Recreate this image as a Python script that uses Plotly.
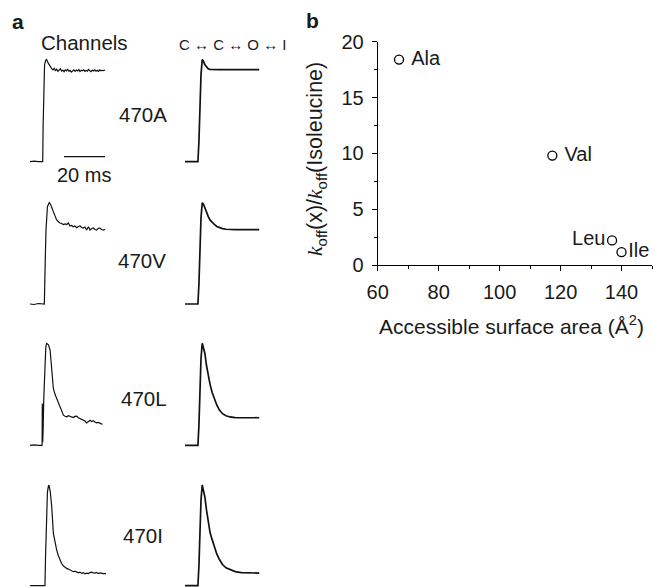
import plotly.graph_objects as go

# ---------------- data ----------------
# Panel b
residues = ["Ala", "Val", "Leu", "Ile"]
asa = [67, 117.3, 136.9, 140]
koff_ratio = [18.4, 9.8, 2.2, 1.15]

# Panel a: recorded channel currents (time in ms, normalized current)
chan_A_t = [0.0, 2.0, 4.0, 6.2, 6.4, 6.7, 7.1, 7.6, 8.1, 8.9, 9.8, 10.6,
            11.2, 11.8, 12.4, 13.0, 13.6, 14.2, 14.8, 15.4, 16.0, 16.6, 17.2, 17.8,
            18.4, 19.0, 19.6, 20.2, 20.8, 21.4, 22.0, 22.6, 23.2, 23.8, 24.4, 25.0,
            25.6, 26.2, 26.8, 27.4, 28.0, 28.6, 29.2, 29.8, 30.4, 31.0, 31.6, 32.2,
            32.8, 33.4, 34.0, 34.6, 35.2, 35.8, 36.6]
chan_A_y = [0.0, 0.005, 0.0, 0.0, 0.35, 0.78, 0.95, 0.99, 1.0, 0.965, 0.93, 0.912,
            0.9, 0.915, 0.893, 0.905, 0.885, 0.9, 0.91, 0.888, 0.897, 0.882, 0.9, 0.89,
            0.905, 0.885, 0.895, 0.878, 0.893, 0.9, 0.885, 0.897, 0.888, 0.902, 0.883, 0.895,
            0.89, 0.9, 0.884, 0.896, 0.887, 0.903, 0.89, 0.882, 0.897, 0.888, 0.9, 0.887,
            0.896, 0.884, 0.899, 0.89, 0.895, 0.893, 0.898]

chan_V_t = [0.0, 2.0, 4.0, 5.5, 7.0, 7.4, 7.8, 8.5, 9.4, 10.0, 10.6, 11.4, 12.2, 13.0,
            13.8, 14.6, 15.4, 16.3, 17.1, 17.9, 18.7, 19.5, 20.3, 21.1, 21.9, 22.8, 23.6,
            24.4, 25.2, 26.0, 26.8, 27.6, 28.5, 29.3, 30.1, 30.9, 31.7, 32.5, 33.3, 34.1,
            34.9, 35.8, 36.6]
chan_V_y = [0.0, -0.005, 0.005, 0.0, 0.0, 0.4, 0.73, 0.96, 1.0, 0.985, 0.96, 0.91, 0.87, 0.83,
            0.815, 0.80, 0.795, 0.785, 0.79, 0.785, 0.80, 0.77, 0.775, 0.763, 0.77, 0.754, 0.765,
            0.77, 0.755, 0.75, 0.76, 0.73, 0.763, 0.73, 0.745, 0.75, 0.735, 0.73, 0.748, 0.75,
            0.735, 0.73, 0.735]

chan_L_t = [0.0, 2.0, 4.0, 5.9, 6.0, 6.2, 6.4, 6.7, 7.2, 7.7, 8.1, 9.0, 9.8, 10.6, 11.4,
            12.2, 13.0, 13.8, 14.6, 15.4, 16.3, 17.1, 17.9, 18.7, 19.5, 20.3, 21.1, 21.9,
            22.8, 23.6, 24.4, 25.2, 26.0, 26.8, 27.6, 28.5, 29.3, 30.1, 30.9, 31.7, 32.5,
            33.3, 34.1, 34.8, 35.4]
chan_L_y = [0.0, 0.005, 0.0, 0.0, 0.41, 0.03, 0.15, 0.45, 0.8, 0.96, 1.0, 0.985, 0.934, 0.77, 0.557,
            0.5, 0.46, 0.42, 0.377, 0.33, 0.295, 0.285, 0.279, 0.29, 0.285, 0.278, 0.272, 0.283,
            0.285, 0.27, 0.262, 0.255, 0.246, 0.238, 0.22, 0.235, 0.246, 0.232, 0.24, 0.228, 0.22,
            0.225, 0.213, 0.21, 0.207]

chan_I_t = [0.0, 2.0, 4.0, 7.3, 7.6, 8.0, 8.5, 9.0, 9.3, 9.9, 10.6, 11.4, 12.2, 13.0, 13.8,
            14.6, 15.4, 16.3, 17.1, 17.9, 18.7, 19.5, 20.3, 21.1, 21.9, 22.8, 23.6, 24.4, 25.2,
            26.0, 26.8, 27.6, 28.5, 29.3, 30.1, 30.9, 31.7, 32.5, 33.3, 34.1, 34.9, 35.8, 37.1]
chan_I_y = [0.0, 0.0, 0.0, 0.0, 0.3, 0.7, 0.93, 0.99, 1.0, 0.93, 0.785, 0.52, 0.43, 0.355, 0.3,
            0.255, 0.22, 0.196, 0.182, 0.172, 0.165, 0.156, 0.148, 0.139, 0.145, 0.14, 0.128, 0.135, 0.122,
            0.13, 0.118, 0.125, 0.12, 0.13, 0.135, 0.127, 0.125, 0.132, 0.12, 0.127, 0.122, 0.12, 0.12]

# Panel a: kinetic model C<->C<->O<->I simulations
model_t = [0, 6.3, 6.8, 7.3, 7.8, 8.4, 9.0, 9.7, 10.5, 11.3, 12.2, 13.2, 14.3, 15.5,
           16.8, 18.3, 20.0, 22.0, 24.5, 27.5, 31.0, 36.2]
model_A = [0, 0, 0.2, 0.55, 0.85, 1.0, 0.985, 0.95, 0.925, 0.91, 0.905, 0.903, 0.902, 0.902,
           0.902, 0.902, 0.902, 0.902, 0.902, 0.902, 0.902, 0.902]
model_V = [0, 0, 0.2, 0.55, 0.85, 1.0, 0.985, 0.95, 0.9, 0.865, 0.83, 0.805, 0.785, 0.765,
           0.752, 0.744, 0.738, 0.735, 0.735, 0.735, 0.735, 0.735]
model_L = [0, 0, 0.2, 0.55, 0.85, 1.0, 0.96, 0.9, 0.78, 0.69, 0.6, 0.52, 0.45, 0.395,
           0.345, 0.31, 0.29, 0.278, 0.272, 0.27, 0.27, 0.27]
model_I = [0, 0, 0.2, 0.55, 0.85, 1.0, 0.95, 0.88, 0.75, 0.62, 0.53, 0.46, 0.39, 0.315,
           0.26, 0.21, 0.178, 0.158, 0.14, 0.13, 0.126, 0.125]

mutant_labels = ["470A", "470V", "470L", "470I"]
scale_bar_ms = 20

for a, b in [(chan_A_t, chan_A_y), (chan_V_t, chan_V_y), (chan_L_t, chan_L_y), (chan_I_t, chan_I_y)]:
    assert len(a) == len(b)
for m in (model_A, model_V, model_L, model_I):
    assert len(m) == len(model_t)

# ---------------- layout helpers ----------------
W, H = 653, 587
FONT = "Liberation Sans, Arial, Helvetica, sans-serif"


def fx(x):
    return x / W


def fy(y):
    return 1 - y / H


fig = go.Figure()

# ---------- panel b ----------
fig.add_trace(go.Scatter(
    x=asa, y=koff_ratio, mode="markers+text", text=residues,
    texttemplate=["\u00a0%{text}", "\u00a0%{text}", "%{text}", "%{text}"],
    textposition=["middle right", "middle right", "middle left", "middle right"],
    marker=dict(symbol="circle-open", size=9, color="black", line=dict(width=1.3, color="black")),
    textfont=dict(size=20, color="#1a1a1a", family=FONT),
    cliponaxis=False, showlegend=False, xaxis="x", yaxis="y", hoverinfo="skip"))

axis_common = dict(showline=True, linecolor="black", linewidth=1, ticks="outside", ticklen=5,
                   tickwidth=1, tickcolor="black", showgrid=False, zeroline=False, automargin=False,
                   tickfont=dict(size=20, color="#1a1a1a", family=FONT))
layout = dict(
    width=W, height=H, margin=dict(l=0, r=0, t=0, b=0, pad=0, autoexpand=False),
    paper_bgcolor="white", plot_bgcolor="white", showlegend=False,
    font=dict(family=FONT, color="#1a1a1a"),
    xaxis=dict(domain=[fx(377.7), fx(652)], range=[60, 150], tick0=60, dtick=20, anchor="y",
               minor=dict(dtick=10, tick0=60, ticklen=3, ticks="outside", tickcolor="black"),
               ticklabelstandoff=4, **axis_common),
    yaxis=dict(domain=[fy(265), fy(41.7)], range=[0, 20], tick0=0, dtick=5, anchor="x",
               minor=dict(dtick=2.5, tick0=0, ticklen=3, ticks="outside", tickcolor="black"),
               ticklabelstandoff=4, **axis_common),
)

# ---------- panel a ----------
chan_sets = [(chan_A_t, chan_A_y), (chan_V_t, chan_V_y), (chan_L_t, chan_L_y), (chan_I_t, chan_I_y)]
model_sets = [model_A, model_V, model_L, model_I]
rows_px = [(161.7, 59.6), (304.0, 202.7), (445.3, 343.3), (585.7, 485.0)]  # baseline, peak (pixels)
px_per_ms = 2.05
x_left0, x_right0 = 30.0, 185.0
t_range = [-0.5, 37.8]

ax_id = 2
for r, ((pb, pp), (ct, cy), my) in enumerate(zip(rows_px, chan_sets, model_sets)):
    unit = pb - pp
    lo = -min(0.1, (H - pb) / unit)
    hi = 1.1
    ydom = [fy(pb - lo * unit), fy(pb - hi * unit)]
    for col, (x0, tt, yy, lw) in enumerate([(x_left0, ct, cy, 1.2), (x_right0, model_t, my, 1.7)]):
        xdom = [fx(x0 + t_range[0] * px_per_ms), fx(x0 + t_range[1] * px_per_ms)]
        xn, yn = f"xaxis{ax_id}", f"yaxis{ax_id}"
        layout[xn] = dict(domain=xdom, range=t_range, visible=False, anchor=f"y{ax_id}", automargin=False)
        layout[yn] = dict(domain=ydom, range=[lo, hi], visible=False, anchor=f"x{ax_id}", automargin=False)
        fig.add_trace(go.Scatter(x=tt, y=yy, mode="lines", line=dict(color="#111111", width=lw),
                                 xaxis=f"x{ax_id}", yaxis=f"y{ax_id}", showlegend=False,
                                 hoverinfo="skip", cliponaxis=False))
        if r == 0 and col == 0:
            # 20 ms scale bar
            fig.add_trace(go.Scatter(x=[36.6 - scale_bar_ms, 36.6], y=[0.05, 0.05], mode="lines",
                                     line=dict(color="#111111", width=1.3), xaxis=f"x{ax_id}",
                                     yaxis=f"y{ax_id}", showlegend=False, hoverinfo="skip"))
        ax_id += 1

annotations = []


def ann(text, x, y, size=20, bold=False, angle=0, family=FONT):
    annotations.append(dict(text=f"<b>{text}</b>" if bold else text, x=fx(x), y=fy(y),
                            xref="paper", yref="paper", xanchor="center", yanchor="middle",
                            showarrow=False, textangle=angle,
                            font=dict(size=size, family=family, color="#1a1a1a")))


ann("a", 18, 21, size=21, bold=True)
ann("b", 312, 20, size=21, bold=True)
ann("Channels", 84, 42, size=20.5)
ann("C \u2194 C \u2194 O \u2194 I", 233, 44, size=15)
for lab, (lx, ly) in zip(mutant_labels, [(143, 114), (141.5, 260), (143.5, 398), (143, 535)]):
    ann(lab, lx, ly, size=20.5)
ann("20 ms", 84, 175, size=20)
ann("Accessible surface area (\u00c5<sup>2</sup>)", 511.5, 325, size=21)
ktxt = '<span style="font-family:Liberation Serif"><i>k</i></span>'
ann(f"{ktxt}<sub>off</sub>(x)/{ktxt}<sub>off</sub>(Isoleucine)", 316, 159, size=21.5, angle=-90)

layout["annotations"] = annotations
fig.update_layout(**layout)
fig.write_html("out.html", config={"displayModeBar": False},
               post_script="document.body.style.margin='0';document.body.style.overflow='hidden';")
